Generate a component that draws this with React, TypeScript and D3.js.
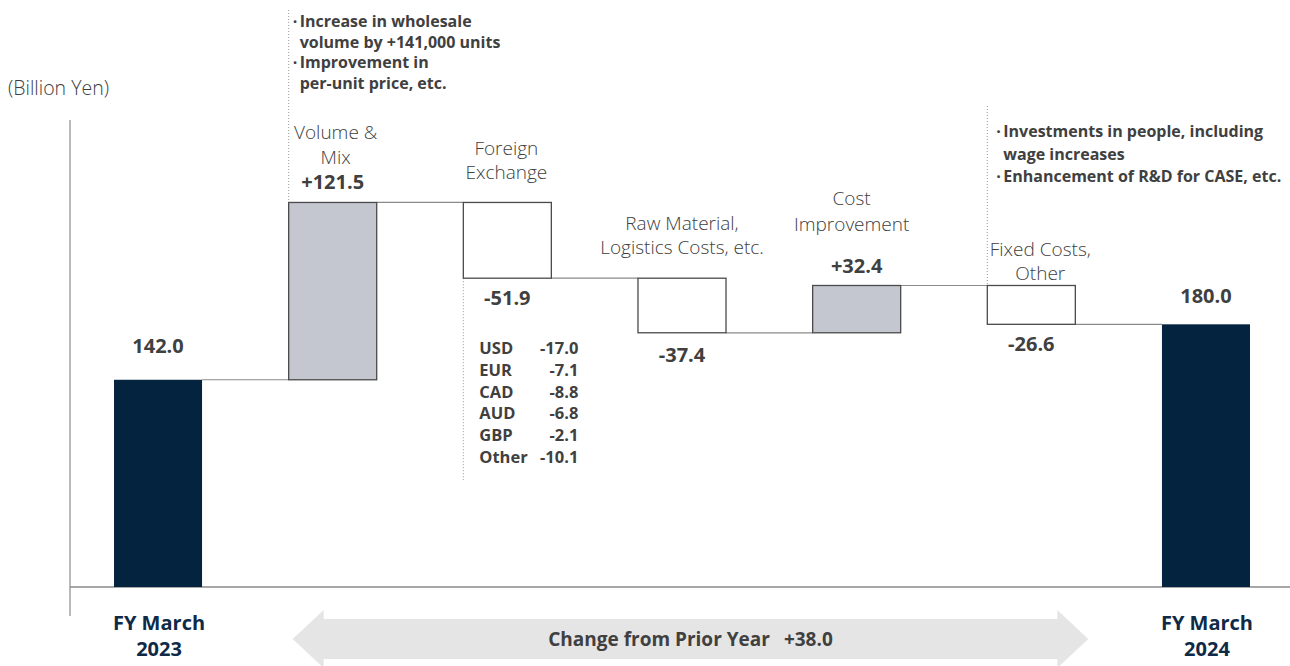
import * as d3 from 'd3'

const categories = [
  'FY March 2023',
  'Volume & Mix',
  'Foreign Exchange',
  'Raw Material, Logistics Costs, etc.',
  'Cost Improvement',
  'Fixed Costs, Other',
  'FY March 2024',
]
const values = [142.0, 121.5, -51.9, -37.4, 32.4, -26.6, 180.0]
const isTotal = [true, false, false, false, false, false, true]
const valueLabels = ['142.0', '+121.5', '-51.9', '-37.4', '+32.4', '-26.6', '180.0']
const labelLines = [
  [],
  ['Volume &', 'Mix'],
  ['Foreign', 'Exchange'],
  ['Raw Material,', 'Logistics Costs, etc.'],
  ['Cost', 'Improvement'],
  ['Fixed Costs,', 'Other'],
  [],
]
const totalLabels = [['FY March', '2023'], ['FY March', '2024']]

const fxCurrencies = ['USD', 'EUR', 'CAD', 'AUD', 'GBP', 'Other']
const fxValues = ['-17.0', '-7.1', '-8.8', '-6.8', '-2.1', '-10.1']

const volumeNotes = ['Increase in wholesale', 'volume by +141,000 units', 'Improvement in', 'per-unit price, etc.']
const volumeBullets = [true, false, true, false]
const fixedNotes = ['Investments in people, including', 'wage increases', 'Enhancement of R&D for CASE, etc.']
const fixedBullets = [true, false, true]

const changeLabel = 'Change from Prior Year'
const changeValue = '+38.0'

// label placement per category (offsets from the bar)
const layout = [
  { dx: 0, lineDy: 0, gap: 0, valDy: -27, valFrom: 'top' },
  { dx: 3, lineDy: -38, gap: 25, valDy: -13, valFrom: 'top' },
  { dx: -1, lineDy: -23, gap: 24.5, valDy: 27, valFrom: 'bottom' },
  { dx: 0, lineDy: -24, gap: 24.5, valDy: 29, valFrom: 'bottom' },
  { dx: -5, lineDy: -54, gap: 26, valDy: -12, valFrom: 'top' },
  { dx: 9, lineDy: -5, gap: 24.5, valDy: 27, valFrom: 'bottom' },
  { dx: -4, lineDy: 0, gap: 0, valDy: -21, valFrom: 'top' },
]

const W = 1290
const H = 666
const FONT = "'Open Sans', 'Noto Sans', sans-serif"
const TXT = '#404040'
const NAVY = '#04233f'

const App = () => {
  const x = d3
    .scaleBand<string>()
    .domain(categories)
    .range([70.7, 1293.3])
    .paddingInner(0.496)
    .paddingOuter(0.248)
  const y = d3.scaleLinear().domain([0, 320]).range([587, 120])
  const bw = x.bandwidth()

  let run = 0
  const bars = categories.map((c, i) => {
    const start = isTotal[i] ? 0 : run
    const end = isTotal[i] ? values[i] : run + values[i]
    run = end
    return { c, i, start, end, lo: Math.min(start, end), hi: Math.max(start, end) }
  })

  const xc = (i: number) => (x(categories[i]) as number) + bw / 2
  const xl = (i: number) => x(categories[i]) as number

  // double-headed arrow under the deltas
  const aL = xl(1) + 4
  const aR = xl(5) + bw + 13
  const aMid = 639
  const head = 31
  const arrow = d3.path()
  arrow.moveTo(aL, aMid)
  arrow.lineTo(aL + head, aMid - 29)
  arrow.lineTo(aL + head, aMid - 20)
  arrow.lineTo(aR - head, aMid - 20)
  arrow.lineTo(aR - head, aMid - 29)
  arrow.lineTo(aR, aMid)
  arrow.lineTo(aR - head, aMid + 29)
  arrow.lineTo(aR - head, aMid + 20)
  arrow.lineTo(aL + head, aMid + 20)
  arrow.lineTo(aL + head, aMid + 29)
  arrow.closePath()

  return (
    <svg
      width={W}
      height={H}
      style={{ position: 'absolute', left: 0, top: 0, background: '#fff' }}
      fontFamily={FONT}
    >
      <text x={8} y={95} fontSize={19.5} fontWeight={300} fill={TXT}>(Billion Yen)</text>

      {/* axes */}
      <line x1={70} x2={70} y1={120} y2={616} stroke="#8a8a8a" strokeWidth={1.2} />
      <line x1={70} x2={W} y1={y(0)} y2={y(0)} stroke="#8a8a8a" strokeWidth={1.5} />

      {/* dotted guides */}
      <line x1={xl(1)} x2={xl(1)} y1={10} y2={y(bars[1].hi)} stroke="#999" strokeDasharray="1,2" />
      <line x1={xl(2)} x2={xl(2)} y1={y(bars[2].lo)} y2={480} stroke="#999" strokeDasharray="1,2" />
      <line x1={xl(5)} x2={xl(5)} y1={106} y2={y(bars[5].hi)} stroke="#999" strokeDasharray="1,2" />

      {/* connectors */}
      {bars.slice(0, -1).map((b, i) => (
        <line
          key={'c' + i}
          x1={xl(i) + bw}
          x2={xl(i + 1)}
          y1={y(b.end)}
          y2={y(b.end)}
          stroke="#8a8a8a"
          strokeWidth={1.2}
        />
      ))}

      {/* bars */}
      {bars.map((b) => (
        <rect
          key={b.c}
          x={xl(b.i)}
          y={y(b.hi)}
          width={bw}
          height={y(b.lo) - y(b.hi)}
          fill={isTotal[b.i] ? NAVY : values[b.i] > 0 ? '#c4c7cf' : '#fff'}
          stroke={isTotal[b.i] ? 'none' : '#4a4a4a'}
          strokeWidth={1.3}
        />
      ))}

      {/* category labels */}
      {bars.map((b) => {
        const L = layout[b.i]
        const lines = labelLines[b.i]
        const top = y(b.hi)
        return lines.map((t, k) => (
          <text
            key={b.c + k}
            x={xc(b.i) + L.dx}
            y={top + L.lineDy - (lines.length - 1 - k) * L.gap}
            fontSize={19}
            fontWeight={300}
            fill={TXT}
            textAnchor="middle"
          >
            {t}
          </text>
        ))
      })}

      {/* value labels */}
      {bars.map((b) => {
        const L = layout[b.i]
        const ref = L.valFrom === 'top' ? y(b.hi) : y(b.lo)
        return (
          <text
            key={'v' + b.c}
            x={xc(b.i)}
            y={ref + L.valDy}
            fontSize={20}
            fontWeight={700}
            fill={TXT}
            textAnchor="middle"
          >
            {valueLabels[b.i]}
          </text>
        )
      })}

      {/* FX breakdown */}
      {fxCurrencies.map((c, k) => (
        <g key={c} fontSize={16.5} fontWeight={700} fill={TXT}>
          <text x={xl(2) + 16} y={354 + k * 21.8}>{c}</text>
          <text x={xl(2) + bw + 27} y={354 + k * 21.8} textAnchor="end">{fxValues[k]}</text>
        </g>
      ))}

      {/* notes */}
      {volumeNotes.map((t, k) => (
        <g key={'vn' + k} fontSize={16} fontWeight={700} fill={TXT}>
          {volumeBullets[k] && <text x={xl(1) + 4} y={27 + k * 20.5}>·</text>}
          <text x={xl(1) + 11} y={27 + k * 20.5}>{t}</text>
        </g>
      ))}
      {fixedNotes.map((t, k) => (
        <g key={'fn' + k} fontSize={16} fontWeight={700} fill={TXT}>
          {fixedBullets[k] && <text x={xl(5) + 9} y={137 + k * 22.5}>·</text>}
          <text x={xl(5) + 16} y={137 + k * 22.5}>{t}</text>
        </g>
      ))}

      {/* totals labels */}
      {[0, 6].map((i, k) =>
        totalLabels[k].map((t, j) => (
          <text
            key={'t' + i + j}
            x={xc(i) + 1}
            y={630 + j * 26}
            fontSize={20}
            fontWeight={700}
            fill="#0f2a47"
            textAnchor="middle"
          >
            {t}
          </text>
        ))
      )}

      {/* change arrow */}
      <path d={arrow.toString()} fill="#e5e5e5" />
      <text x={(aL + aR) / 2} y={646} fontSize={19} fontWeight={700} fill={TXT} textAnchor="middle">
        {changeLabel}
        <tspan dx={14}>{changeValue}</tspan>
      </text>
    </svg>
  )
}

export default App
